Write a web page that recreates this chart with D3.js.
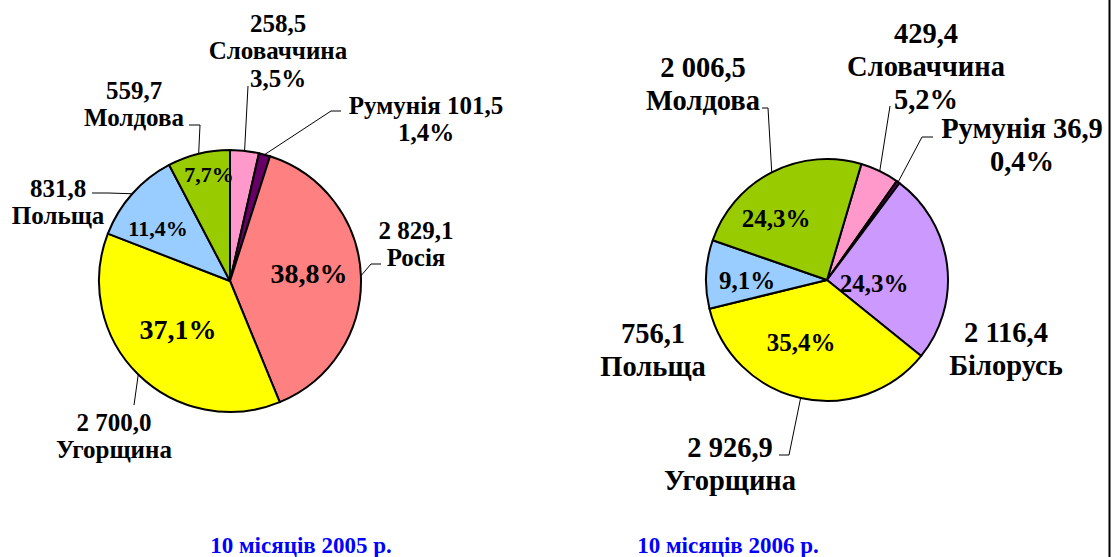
<!DOCTYPE html>
<html>
<head>
<meta charset="utf-8">
<script src="https://cdn.jsdelivr.net/npm/d3@7"></script>
<style>
  html, body { margin: 0; padding: 0; background: #fff; }
  svg { display: block; }
</style>
</head>
<body>
<script>
// ---------------- DATA ----------------
const countries2005 = ["Словаччина", "Румунія", "Росія", "Угорщина", "Польща", "Молдова"];
const values2005 = [258.5, 101.5, 2829.1, 2700.0, 831.8, 559.7];
const valueLabels2005 = ["258,5", "101,5", "2 829,1", "2 700,0", "831,8", "559,7"];
const pctLabels2005 = ["3,5%", "1,4%", "38,8%", "37,1%", "11,4%", "7,7%"];

const countries2006 = ["Словаччина", "Румунія", "Білорусь", "Угорщина", "Польща", "Молдова"];
const values2006 = [429.4, 36.9, 2116.4, 2926.9, 756.1, 2006.5];
const valueLabels2006 = ["429,4", "36,9", "2 116,4", "2 926,9", "756,1", "2 006,5"];
const pctLabels2006 = ["5,2%", "0,4%", "24,3%", "35,4%", "9,1%", "24,3%"];

const titles = ["10 місяців 2005 р.", "10 місяців 2006 р."];

// ---------------- STYLE / LAYOUT ----------------
const W = 1116, H = 557;
const FONT = "'Liberation Serif', 'Times New Roman', Times, serif";
const colorScale = d3.scaleOrdinal()
  .domain(["Словаччина", "Румунія", "Росія", "Угорщина", "Польща", "Молдова", "Білорусь"])
  .range(["#FF99CC", "#660066", "#FF8080", "#FFFF00", "#99CCFF", "#99CC00", "#CC99FF"]);

const layout2005 = {
  cx: 230, cy: 281, r: 131, start: 0, outerSize: 25, lineH: 27.5,
  title: { x: 301, y: 545 },
  labels: [
    { lines: ["v", "n", "p"], x: 278, y: 23, leader: [[248, 86]] },
    { lines: ["nv", "p"], x: 426, y: 105, leader: [[341, 111], [331, 111]] },
    { lines: ["v", "n"], x: 416, y: 230, leader: [[381, 264], [371, 264]], inner: { x: 309, y: 273, size: 28 } },
    { lines: ["v", "n"], x: 114, y: 422, leader: [[134, 405]], inner: { x: 178, y: 329, size: 28 } },
    { lines: ["v", "n"], x: 58, y: 188, leader: [[92, 193], [108, 193]], inner: { x: 158, y: 228, size: 22 } },
    { lines: ["v", "n"], x: 134, y: 90, leader: [[189, 125], [200, 125]], inner: { x: 209, y: 174, size: 22 } }
  ]
};
const layout2006 = {
  cx: 827, cy: 280, r: 121, start: 16.5, outerSize: 28.5, lineH: 33,
  title: { x: 728, y: 545 },
  labels: [
    { lines: ["v", "n", "p"], x: 926, y: 33, leader: [[890, 106]] },
    { lines: ["nv", "p"], x: 1022, y: 128, leader: [[933, 137], [922, 137]] },
    { lines: ["v", "n"], x: 1006, y: 332, leader: null, inner: { x: 874, y: 283, size: 25 } },
    { lines: ["v", "n"], x: 730, y: 447, leader: [[779, 455], [789, 455]], inner: { x: 801, y: 342, size: 25 } },
    { lines: ["v", "n"], x: 653, y: 333, leader: null, inner: { x: 747, y: 280, size: 25 } },
    { lines: ["v", "n"], x: 703, y: 67, leader: [[762, 108], [768, 108]], inner: { x: 776, y: 218, size: 25 } }
  ]
};

// ---------------- DRAW ----------------
const svg = d3.select("body").append("svg")
  .attr("width", W).attr("height", H)
  .attr("viewBox", `0 0 ${W} ${H}`)
  .attr("font-family", FONT)
  .attr("font-weight", "bold");
svg.append("rect").attr("width", W).attr("height", H).attr("fill", "#fff");

function drawPie(countries, values, valueLabels, pctLabels, L, title) {
  const rad = L.start * Math.PI / 180;
  const pie = d3.pie().sort(null).value(d => d.value)
    .startAngle(rad).endAngle(rad + 2 * Math.PI);
  const data = countries.map((c, i) => ({ name: c, value: values[i], vl: valueLabels[i], pl: pctLabels[i], lab: L.labels[i] }));
  const arcs = pie(data);
  const arc = d3.arc().innerRadius(0).outerRadius(L.r);
  const g = svg.append("g").attr("transform", `translate(${L.cx},${L.cy})`);

  g.selectAll("path.slice").data(arcs).join("path")
    .attr("class", "slice")
    .attr("d", arc)
    .attr("fill", d => colorScale(d.data.name))
    .attr("stroke", "#000")
    .attr("stroke-width", 2)
    .attr("stroke-linejoin", "round");

  arcs.forEach(a => {
    const lab = a.data.lab;
    if (!lab.leader) return;
    const mid = (a.startAngle + a.endAngle) / 2;
    const ex = L.cx + L.r * Math.sin(mid);
    const ey = L.cy - L.r * Math.cos(mid);
    const pts = lab.leader.concat([[ex, ey]]);
    svg.append("path")
      .attr("d", d3.line()(pts))
      .attr("fill", "none")
      .attr("stroke", "#000")
      .attr("stroke-width", 1);
  });

  arcs.forEach(a => {
    const lab = a.data.lab;
    const t = svg.append("text")
      .attr("text-anchor", "middle")
      .attr("font-family", FONT)
      .attr("font-weight", "bold")
      .attr("font-size", L.outerSize)
      .attr("fill", "#000");
    lab.lines.forEach((k, i) => {
      const s = k === "v" ? a.data.vl : k === "n" ? a.data.name : k === "p" ? a.data.pl : a.data.name + " " + a.data.vl;
      t.append("tspan")
        .attr("x", lab.x)
        .attr("y", lab.y + i * L.lineH)
        .attr("dy", "0.35em")
        .text(s);
    });
    if (lab.inner) {
      svg.append("text")
        .attr("text-anchor", "middle")
        .attr("font-family", FONT)
        .attr("font-weight", "bold")
        .attr("font-size", lab.inner.size)
        .attr("x", lab.inner.x)
        .attr("y", lab.inner.y)
        .attr("dy", "0.35em")
        .attr("fill", "#000")
        .text(a.data.pl);
    }
  });

  svg.append("text")
    .attr("text-anchor", "middle")
    .attr("font-family", FONT)
    .attr("font-weight", "bold")
    .attr("font-size", 23)
    .attr("fill", "#0000FF")
    .attr("x", L.title.x).attr("y", L.title.y)
    .attr("dy", "0.35em")
    .text(title);
}

drawPie(countries2005, values2005, valueLabels2005, pctLabels2005, layout2005, titles[0]);
drawPie(countries2006, values2006, valueLabels2006, pctLabels2006, layout2006, titles[1]);

svg.append("line")
  .attr("x1", 1109.5).attr("x2", 1109.5)
  .attr("y1", 0).attr("y2", H)
  .attr("stroke", "#000").attr("stroke-width", 2);
</script>
</body>
</html>
